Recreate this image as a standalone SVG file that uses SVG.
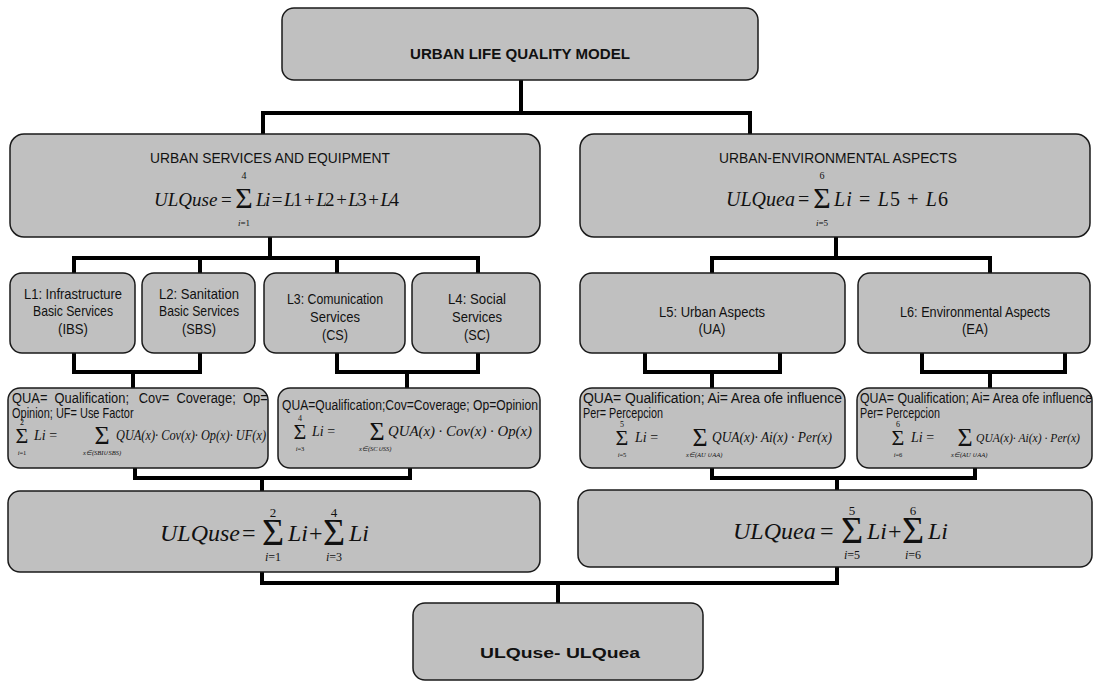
<svg xmlns="http://www.w3.org/2000/svg" width="1098" height="684" viewBox="0 0 1098 684">
<style>
.box{fill:#c0c0c0;stroke:#1a1a1a;stroke-width:1.5}
.con{fill:none;stroke:#000;stroke-width:4}
.t{font-family:"Liberation Sans Narrow","Liberation Sans",Arial,sans-serif;fill:#111;text-anchor:middle;font-size:15px}
.l{font-family:"Liberation Sans",Arial,sans-serif;fill:#111;font-size:14px}
.b{font-weight:bold}
.m{font-family:"Liberation Serif","Times New Roman",serif;font-style:italic;fill:#111}
.u{font-style:normal}
.s{font-family:"Liberation Serif","Times New Roman",serif;fill:#111;text-anchor:middle}
</style>
<rect width="1098" height="684" fill="#fff"/>
<g id="connectors">
<path class="con" d="M521 80V113M263 134V113H750V134"/>
<path class="con" d="M270 237V258M74 273V258H478V273M200 258V273M337 258V273"/>
<path class="con" d="M836 237V258M712 273V258H990V273"/>
<path class="con" d="M74 352V372H200V352M133 372V388"/>
<path class="con" d="M337 352V372H478V352M407 372V388"/>
<path class="con" d="M645 352V372H780V352M712 372V388"/>
<path class="con" d="M922 352V372H1065V352M990 372V388"/>
<path class="con" d="M135 468V478H410V468M262 478V491"/>
<path class="con" d="M712 468V478H975V468M837 478V490"/>
<path class="con" d="M262 572V583H837V567M558 583V603"/>
</g>
<g id="n-model">
<rect class="box" x="282" y="8" width="476" height="72" rx="12"/>
<text class="t b" x="520" y="59" font-size="18" textLength="220" lengthAdjust="spacingAndGlyphs">URBAN LIFE QUALITY MODEL</text>
</g>
<g id="n-services">
<rect class="box" x="10" y="134" width="530" height="103" rx="14"/>
<text class="t" x="270" y="163" font-size="16" textLength="240" lengthAdjust="spacingAndGlyphs">URBAN SERVICES AND EQUIPMENT</text>
<text class="m" x="154" y="206" font-size="19">ULQuse</text>
<text class="m u" x="221" y="206" font-size="19">=</text>
<text class="s" x="244" y="208" font-size="30">Σ</text>
<text class="s" x="244" y="179" font-size="10">4</text>
<text class="s" x="244" y="226" font-size="9"><tspan font-style="italic">i</tspan>=1</text>
<text class="m" x="256" y="206" font-size="19" textLength="143" lengthAdjust="spacing">Li <tspan class="u">=</tspan> L<tspan class="u">1 + </tspan>L<tspan class="u">2 + </tspan>L<tspan class="u">3 + </tspan>L<tspan class="u">4</tspan></text>
</g>
<g id="n-env">
<rect class="box" x="580" y="134" width="510" height="103" rx="14"/>
<text class="t" x="838" y="163" font-size="16" textLength="238" lengthAdjust="spacingAndGlyphs">URBAN-ENVIRONMENTAL ASPECTS</text>
<text class="m" x="726" y="206" font-size="20">ULQuea</text>
<text class="m u" x="798" y="206" font-size="20">=</text>
<text class="s" x="822" y="208" font-size="30">Σ</text>
<text class="s" x="822" y="179" font-size="10">6</text>
<text class="s" x="822" y="226" font-size="9"><tspan font-style="italic">i</tspan>=5</text>
<text class="m" x="834" y="206" font-size="20" textLength="114" lengthAdjust="spacing">Li <tspan class="u">=</tspan> L<tspan class="u">5 + </tspan>L<tspan class="u">6</tspan></text>
</g>
<g id="n-l1">
<rect class="box" x="10" y="273" width="125" height="80" rx="12"/>
<text class="t" x="73" y="299" textLength="98" lengthAdjust="spacingAndGlyphs">L1: Infrastructure</text>
<text class="t" x="73" y="316" textLength="80" lengthAdjust="spacingAndGlyphs">Basic Services</text>
<text class="t" x="73" y="334" textLength="30" lengthAdjust="spacingAndGlyphs">(IBS)</text>
</g>
<g id="n-l2">
<rect class="box" x="142" y="273" width="113" height="80" rx="12"/>
<text class="t" x="199" y="299" textLength="80" lengthAdjust="spacingAndGlyphs">L2: Sanitation</text>
<text class="t" x="199" y="316" textLength="80" lengthAdjust="spacingAndGlyphs">Basic Services</text>
<text class="t" x="199" y="334" textLength="34" lengthAdjust="spacingAndGlyphs">(SBS)</text>
</g>
<g id="n-l3">
<rect class="box" x="264" y="273" width="141" height="80" rx="12"/>
<text class="t" x="335" y="304" textLength="96" lengthAdjust="spacingAndGlyphs">L3: Comunication</text>
<text class="t" x="335" y="322" textLength="50" lengthAdjust="spacingAndGlyphs">Services</text>
<text class="t" x="335" y="340" textLength="26" lengthAdjust="spacingAndGlyphs">(CS)</text>
</g>
<g id="n-l4">
<rect class="box" x="412" y="273" width="128" height="80" rx="12"/>
<text class="t" x="477" y="304" textLength="58" lengthAdjust="spacingAndGlyphs">L4: Social</text>
<text class="t" x="477" y="322" textLength="50" lengthAdjust="spacingAndGlyphs">Services</text>
<text class="t" x="477" y="340" textLength="26" lengthAdjust="spacingAndGlyphs">(SC)</text>
</g>
<g id="n-l5">
<rect class="box" x="580" y="273" width="265" height="80" rx="12"/>
<text class="t" x="712" y="317" textLength="106" lengthAdjust="spacingAndGlyphs">L5: Urban Aspects</text>
<text class="t" x="712" y="334" textLength="27" lengthAdjust="spacingAndGlyphs">(UA)</text>
</g>
<g id="n-l6">
<rect class="box" x="858" y="273" width="232" height="80" rx="12"/>
<text class="t" x="975" y="317" textLength="150" lengthAdjust="spacingAndGlyphs">L6: Environmental Aspects</text>
<text class="t" x="975" y="334" textLength="26" lengthAdjust="spacingAndGlyphs">(EA)</text>
</g>
<g id="n-f1">
<rect class="box" x="8" y="388" width="260" height="80" rx="12"/>
<text class="l" transform="translate(12 403) scale(0.92 1)"><tspan x="0">QUA=</tspan><tspan x="46.3">Qualification;</tspan><tspan x="137.8">Cov=</tspan><tspan x="178.7">Coverage;</tspan><tspan x="251.1">Op=</tspan></text>
<text class="l" transform="translate(12 418) scale(0.8 1)" textLength="152" lengthAdjust="spacingAndGlyphs">Opinion; UF= Use Factor</text>
<text class="s" x="22" y="443" font-size="22">Σ</text>
<text class="s" x="22" y="425" font-size="8">2</text>
<text class="s" x="22" y="455" font-size="6.5"><tspan font-style="italic">i</tspan>=1</text>
<text class="m" x="34" y="440" font-size="14">Li <tspan class="u">=</tspan></text>
<text class="s" x="102" y="444" font-size="26">Σ</text>
<text class="m" x="83" y="455" font-size="6.5">x∈(SBI∪SBS)</text>
<text class="m" x="116" y="440" font-size="14" textLength="150" lengthAdjust="spacingAndGlyphs">QUA(x)· Cov(x)· Op(x)· UF(x)</text>
</g>
<g id="n-f2">
<rect class="box" x="278" y="388" width="262" height="80" rx="12"/>
<text class="l" x="282" y="410" textLength="256" lengthAdjust="spacingAndGlyphs">QUA=Qualification;Cov=Coverage; Op=Opinion</text>
<text class="s" x="300" y="439" font-size="22">Σ</text>
<text class="s" x="300" y="421" font-size="8">4</text>
<text class="s" x="300" y="451" font-size="6.5"><tspan font-style="italic">i</tspan>=3</text>
<text class="m" x="312" y="436" font-size="14">Li <tspan class="u">=</tspan></text>
<text class="s" x="377" y="440" font-size="26">Σ</text>
<text class="m" x="359" y="451" font-size="6.5">x∈(SC∪SS)</text>
<text class="m" x="388" y="436" font-size="14" textLength="144" lengthAdjust="spacingAndGlyphs">QUA(x) · Cov(x) · Op(x)</text>
</g>
<g id="n-f3">
<rect class="box" x="580" y="388" width="265" height="80" rx="12"/>
<text class="l" x="583" y="403" font-size="13.6" textLength="259" lengthAdjust="spacing">QUA= Qualification; Ai= Area ofe influence</text>
<text class="l" transform="translate(583 418) scale(0.8 1)" textLength="100" lengthAdjust="spacingAndGlyphs">Per= Percepcion</text>
<text class="s" x="622" y="445" font-size="22">Σ</text>
<text class="s" x="622" y="427" font-size="8">5</text>
<text class="s" x="622" y="457" font-size="6.5"><tspan font-style="italic">i</tspan>=5</text>
<text class="m" x="635" y="442" font-size="14">Li <tspan class="u">=</tspan></text>
<text class="s" x="700" y="446" font-size="26">Σ</text>
<text class="m" x="686" y="457" font-size="6.5">x∈(AU ∪AA)</text>
<text class="m" x="712" y="442" font-size="14" textLength="120" lengthAdjust="spacingAndGlyphs">QUA(x)· Ai(x) · Per(x)</text>
</g>
<g id="n-f4">
<rect class="box" x="857" y="388" width="235" height="80" rx="12"/>
<text class="l" transform="translate(860 403) scale(0.9 1)" font-size="13" textLength="258" lengthAdjust="spacingAndGlyphs">QUA= Qualification; Ai= Area ofe influence</text>
<text class="l" transform="translate(860 418) scale(0.8 1)" textLength="100" lengthAdjust="spacingAndGlyphs">Per= Percepcion</text>
<text class="s" x="898" y="445" font-size="22">Σ</text>
<text class="s" x="898" y="427" font-size="8">6</text>
<text class="s" x="898" y="457" font-size="6.5"><tspan font-style="italic">i</tspan>=6</text>
<text class="m" x="911" y="442" font-size="14">Li <tspan class="u">=</tspan></text>
<text class="s" x="965" y="446" font-size="26">Σ</text>
<text class="m" x="951" y="457" font-size="6.5">x∈(AU ∪AA)</text>
<text class="m" x="976" y="442" font-size="12.5" textLength="104" lengthAdjust="spacingAndGlyphs">QUA(x)· Ai(x) · Per(x)</text>
</g>
<g id="n-use">
<rect class="box" x="8" y="491" width="532" height="81" rx="12"/>
<text class="m" x="160" y="541" font-size="24">ULQuse</text>
<text class="m u" x="242" y="541" font-size="24">=</text>
<text class="s" x="273" y="545" font-size="38">Σ</text>
<text class="s" x="273" y="517" font-size="13">2</text>
<text class="s" x="273" y="561" font-size="12"><tspan font-style="italic">i</tspan>=1</text>
<text class="m" x="288" y="541" font-size="24">Li</text>
<text class="m u" x="309" y="541" font-size="24">+</text>
<text class="s" x="334" y="545" font-size="38">Σ</text>
<text class="s" x="334" y="517" font-size="13">4</text>
<text class="s" x="334" y="561" font-size="12"><tspan font-style="italic">i</tspan>=3</text>
<text class="m" x="349" y="541" font-size="24">Li</text>
</g>
<g id="n-uea">
<rect class="box" x="578" y="490" width="514" height="77" rx="12"/>
<text class="m" x="733" y="539" font-size="24">ULQuea</text>
<text class="m u" x="820" y="539" font-size="24">=</text>
<text class="s" x="852" y="543" font-size="38">Σ</text>
<text class="s" x="852" y="515" font-size="13">5</text>
<text class="s" x="852" y="559" font-size="12"><tspan font-style="italic">i</tspan>=5</text>
<text class="m" x="867" y="539" font-size="24">Li</text>
<text class="m u" x="888" y="539" font-size="24">+</text>
<text class="s" x="913" y="543" font-size="38">Σ</text>
<text class="s" x="913" y="515" font-size="13">6</text>
<text class="s" x="913" y="559" font-size="12"><tspan font-style="italic">i</tspan>=6</text>
<text class="m" x="928" y="539" font-size="24">Li</text>
</g>
<g id="n-result">
<rect class="box" x="413" y="603" width="290" height="77" rx="12"/>
<text class="t b" x="560" y="658" font-size="21" textLength="160" lengthAdjust="spacingAndGlyphs">ULQuse-  ULQuea</text>
</g>
</svg>
